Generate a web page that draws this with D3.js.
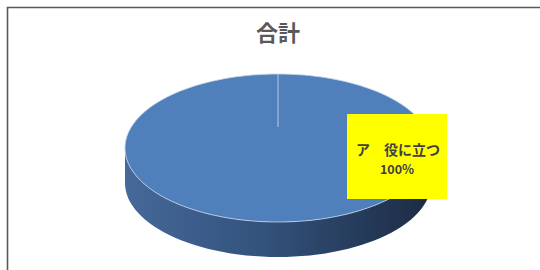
<!DOCTYPE html>
<html>
<head>
<meta charset="utf-8">
<script src="https://cdn.jsdelivr.net/npm/d3@7"></script>
<style>
  body { margin: 0; background: #fff; }
  text { font-family: "Noto Sans CJK JP", "Noto Sans", sans-serif; }
</style>
</head>
<body>
<div id="chart-area"></div>
<script>
// data
let categories = ["ア　役に立つ"];
let values = [100];
let title = "合計";

let width = 540, height = 270;

let svg = d3.select("#chart-area").append("svg")
	.attr("width", width)
	.attr("height", height);

// frame (left + top only visible)
svg.append("path")
	.attr("d", "M7.5,270 L7.5,7.5 L540,7.5")
	.attr("fill", "none")
	.attr("stroke", "#595959")
	.attr("stroke-width", 1.6);

svg.append("text")
	.attr("x", 278)
	.attr("y", 41)
	.attr("text-anchor", "middle")
	.attr("font-size", 22)
	.attr("font-weight", "bold")
	.attr("fill", "#595959")
	.text(title);

// pie geometry
let cx = 278, cy = 148, rx = 153, ry = 74, depth = 35;

let pie = d3.pie().sort(null).value(d => d);
let slices = pie(values);

// point on the ellipse for a d3 angle (0 = 12 o'clock, clockwise)
function pt(a, dy) {
	return [cx + rx * Math.sin(a), cy - ry * Math.cos(a) + (dy || 0)];
}

let defs = svg.append("defs");
let grad = defs.append("linearGradient")
	.attr("id", "side")
	.attr("x1", "0%").attr("x2", "100%").attr("y1", "0%").attr("y2", "0%");
grad.append("stop").attr("offset", "0%").attr("stop-color", "#46699a");
grad.append("stop").attr("offset", "45%").attr("stop-color", "#33527c");
grad.append("stop").attr("offset", "100%").attr("stop-color", "#1c2b42");

// side walls: only the front half (PI/2 .. 3PI/2) is visible
slices.forEach(function(s) {
	let a0 = Math.max(s.startAngle, Math.PI / 2);
	let a1 = Math.min(s.endAngle, 3 * Math.PI / 2);
	if (a1 <= a0) return;
	let top = d3.range(0, 61).map(i => pt(a0 + (a1 - a0) * i / 60, 0));
	let bot = top.map(p => [p[0], p[1] + depth]).reverse();
	svg.append("path")
		.attr("d", d3.line()(top.concat(bot)) + "Z")
		.attr("fill", "url(#side)");
});

// top faces
slices.forEach(function(s) {
	let n = 180;
	let pts = d3.range(0, n + 1).map(i => pt(s.startAngle + (s.endAngle - s.startAngle) * i / n, 0));
	let full = (s.endAngle - s.startAngle) >= 2 * Math.PI - 1e-6;
	let d = full ? d3.line()(pts) + "Z" : "M" + cx + "," + cy + "L" + d3.line()(pts).slice(1) + "Z";
	svg.append("path")
		.attr("d", d)
		.attr("fill", "#4f80bb")
		.attr("stroke", "#c9d6e8")
		.attr("stroke-width", 0.8);
	// slice border from the top
	let p0 = pt(s.startAngle, 0);
	svg.append("line")
		.attr("x1", p0[0]).attr("y1", p0[1])
		.attr("x2", p0[0]).attr("y2", 127)
		.attr("stroke", "#b7c8e0")
		.attr("stroke-width", 1);
});

// data label
let lbl = svg.append("g").attr("transform", "translate(347,114)");
lbl.append("rect")
	.attr("width", 100)
	.attr("height", 85)
	.attr("fill", "#ffff00");
lbl.append("text")
	.attr("x", 9)
	.attr("y", 41)
	.attr("font-size", 14)
	.attr("font-weight", "bold")
	.attr("fill", "#404040")
	.text(categories[0]);
lbl.append("text")
	.attr("x", 50)
	.attr("y", 60)
	.attr("text-anchor", "middle")
	.attr("font-size", 12.5)
	.attr("font-weight", "bold")
	.attr("fill", "#404040")
	.text(d3.format(".0%")(values[0] / d3.sum(values)));
</script>
</body>
</html>
